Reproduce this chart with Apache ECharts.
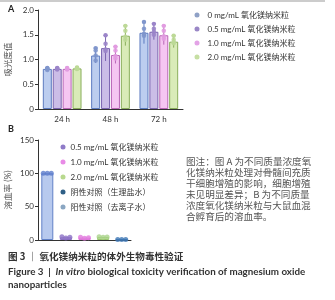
<!DOCTYPE html>
<html>
<head>
<meta charset="utf-8">
<style>
html, body { margin: 0; padding: 0; background: #fff; }
#chart { width: 335px; height: 300px; }
</style>
<script src="https://cdn.jsdelivr.net/npm/echarts@6/dist/echarts.min.js"></script>
</head>
<body>
<div id="chart"></div>
<script>
// A: 吸光度值
var timeCats = ['24 h', '48 h', '72 h'];
var concNames = ['0 mg/mL 氧化镁纳米粒', '0.5 mg/mL 氧化镁纳米粒', '1.0 mg/mL 氧化镁纳米粒', '2.0 mg/mL 氧化镁纳米粒'];
var odMean = [[0.81, 1.08, 1.54], [0.81, 1.23, 1.56], [0.81, 1.09, 1.49], [0.82, 1.48, 1.36]];
var odSd = [[0.02, 0.15, 0.22], [0.02, 0.26, 0.16], [0.02, 0.17, 0.19], [0.02, 0.20, 0.12]];
var odPoints = [
    [[0.79, 0.81, 0.82], [1.18, 1.08, 0.98], [1.62, 1.52, 1.48]],
    [[0.80, 0.81, 0.82], [1.32, 1.20, 1.17], [1.62, 1.56, 1.50]],
    [[0.80, 0.81, 0.82], [1.18, 1.07, 1.02], [1.58, 1.47, 1.42]],
    [[0.81, 0.82, 0.83], [1.58, 1.46, 1.40], [1.40, 1.35, 1.33]]
];

// B: 溶血率
var hemoCats = ['阳性对照（去离子水）', '0.5 mg/mL 氧化镁纳米粒', '1.0 mg/mL 氧化镁纳米粒', '2.0 mg/mL 氧化镁纳米粒', '阴性对照（生理盐水）'];
var hemoMean = [100, 4, 3.5, 4.5, 0.8];
var hemoPoints = [[100, 100, 100], [5, 3, 4], [4, 2.5, 3.5], [5, 4, 4.5], [0.8, 0.8, 0.8]];
var hemoLegend = ['0.5 mg/mL 氧化镁纳米粒', '1.0 mg/mL 氧化镁纳米粒', '2.0 mg/mL 氧化镁纳米粒', '阴性对照（生理盐水）', '阳性对照（去离子水）'];

var captionLines = [
    '图注：图 A 为不同质量浓度氧',
    '化镁纳米粒处理对骨髓间充质',
    '干细胞增殖的影响，细胞增殖',
    '未见明显差异；B 为不同质量',
    '浓度氧化镁纳米粒与大鼠血混',
    '合孵育后的溶血率。'
];

var FONT = 'Lato, "Noto Sans CJK SC", sans-serif';

// 颜色
var concFill = ['#bccdef', '#cbbde7', '#f5c6f2', '#d9ebb8'];
var concBorder = ['#5d7bc0', '#7b64b0', '#b866b6', '#8aae5c'];
var concDot = ['#8096cc', '#9b85c9', '#e29ce1', '#bdd997'];
var concLegendDot = ['#8fa1c6', '#9a87c6', '#e3a3e6', '#c6dfa3'];

var hemoFill = ['#b7c9ee', '#bfaee0', '#f0b8ee', '#cfe6ab', '#9fb8dc'];
var hemoBorder = ['#6281c8', '#8a70c0', '#d474d0', '#96c06a', '#3f6fa8'];
var hemoDot = ['#5b7ccc', '#8c70c6', '#e27ade', '#a9d38a', '#3f78b5'];
var hemoLegendDot = ['#8f7bc8', '#e88be6', '#b8d98e', '#2f5f86', '#8aa6c2'];

var barW = 9, barStep = 9.9;
var barOffsets = [-1.5, -0.5, 0.5, 1.5].map(function (k) { return k * barStep; });
var dotOffsetsB = [-4, 0, 4];

var chart = echarts.init(document.getElementById('chart'));

var series = [];

// A 柱
concNames.forEach(function (name, k) {
    series.push({
        name: name,
        type: 'bar',
        xAxisIndex: 0,
        yAxisIndex: 0,
        barWidth: barW,
        barGap: '10%',
        data: odMean[k],
        itemStyle: { color: concFill[k], borderColor: concBorder[k], borderWidth: 1 },
        z: 2
    });
});

// A 误差线
concNames.forEach(function (name, k) {
    var d = odMean[k].map(function (m, i) { return [i, m, odSd[k][i]]; });
    series.push({
        type: 'custom',
        xAxisIndex: 0,
        yAxisIndex: 0,
        data: d,
        z: 3,
        silent: true,
        renderItem: function (params, api) {
            var i = api.value(0), m = api.value(1), s = api.value(2);
            var hi = api.coord([i, m + s]);
            var lo = api.coord([i, m - s]);
            var x = hi[0] + barOffsets[k];
            return {
                type: 'group',
                children: [
                    { type: 'line', shape: { x1: x, y1: hi[1], x2: x, y2: lo[1] }, style: { stroke: concBorder[k], lineWidth: 1 } },
                    { type: 'line', shape: { x1: x - 2, y1: hi[1], x2: x + 2, y2: hi[1] }, style: { stroke: concBorder[k], lineWidth: 1 } },
                    { type: 'circle', shape: { cx: x, cy: hi[1], r: 2.2 }, style: { fill: concDot[k] } }
                ]
            };
        }
    });
});

// A 散点
concNames.forEach(function (name, k) {
    var d = [];
    odPoints[k].forEach(function (pts, i) {
        pts.forEach(function (v) { d.push([i, v]); });
    });
    series.push({
        type: 'scatter',
        xAxisIndex: 0,
        yAxisIndex: 0,
        data: d,
        symbolSize: 4.5,
        symbolOffset: [barOffsets[k], 0],
        itemStyle: { color: concDot[k], opacity: 0.9 },
        z: 4,
        silent: true
    });
});

// B 柱
hemoCats.forEach(function (name, c) {
    var d = hemoCats.map(function (x, i) { return i === c ? hemoMean[c] : '-'; });
    series.push({
        name: name,
        type: 'bar',
        xAxisIndex: 1,
        yAxisIndex: 1,
        stack: 'hemo',
        barWidth: 12,
        data: d,
        itemStyle: { color: hemoFill[c], borderColor: hemoBorder[c], borderWidth: 1 },
        z: 2
    });
});

// B 散点
hemoCats.forEach(function (name, c) {
    var d = hemoPoints[c].map(function (v, j) {
        return { value: [c, v], symbolOffset: [dotOffsetsB[j], 0] };
    });
    series.push({
        type: 'scatter',
        xAxisIndex: 1,
        yAxisIndex: 1,
        data: d,
        symbolSize: 5,
        itemStyle: { color: hemoDot[c] },
        z: 4,
        silent: true
    });
});

var axisLineStyle = { color: '#333', width: 1 };

var option = {
    animation: false,
    textStyle: { fontFamily: FONT },
    grid: [
        { left: 38, top: 10, width: 145, height: 99 },
        { left: 38, top: 140, width: 93, height: 100 }
    ],
    xAxis: [
        {
            gridIndex: 0, type: 'category', data: timeCats,
            axisLine: { lineStyle: axisLineStyle },
            axisTick: { alignWithLabel: true, length: 3, lineStyle: axisLineStyle },
            axisLabel: { color: '#333', fontSize: 8, margin: 6, fontFamily: FONT }
        },
        {
            gridIndex: 1, type: 'category', data: hemoCats,
            axisLine: { lineStyle: axisLineStyle },
            axisTick: { show: false },
            axisLabel: { show: false }
        }
    ],
    yAxis: [
        {
            gridIndex: 0, type: 'value', min: 0, max: 2, interval: 0.5,
            name: '吸光度值', nameLocation: 'middle', nameGap: 25,
            nameTextStyle: { color: '#555', fontSize: 8.5, fontFamily: FONT },
            axisLine: { show: true, lineStyle: axisLineStyle },
            axisTick: { show: true, length: 3, lineStyle: axisLineStyle },
            axisLabel: {
                color: '#333', fontSize: 8, margin: 4, fontFamily: FONT,
                formatter: function (v) { return v === 0 ? '0' : v.toFixed(1); }
            },
            splitLine: { show: false }
        },
        {
            gridIndex: 1, type: 'value', min: 0, max: 150, interval: 50,
            name: '溶血率 (%)', nameLocation: 'middle', nameGap: 25,
            nameTextStyle: { color: '#555', fontSize: 8.5, fontFamily: FONT },
            axisLine: { show: true, lineStyle: axisLineStyle },
            axisTick: { show: true, length: 3, lineStyle: axisLineStyle },
            axisLabel: { color: '#333', fontSize: 8, margin: 4, fontFamily: FONT },
            splitLine: { show: false }
        }
    ],
    legend: [
        {
            left: 194.5, top: 10, orient: 'vertical', padding: 0,
            itemWidth: 5, itemHeight: 5, itemGap: 4, icon: 'circle',
            selectedMode: false,
            textStyle: { color: '#333', fontSize: 8, lineHeight: 10, fontFamily: FONT, padding: [0, 0, 0, 3] },
            data: concNames.map(function (n, k) {
                return { name: n, itemStyle: { color: concLegendDot[k], borderWidth: 0 } };
            })
        },
        {
            left: 60.5, top: 142, orient: 'vertical', padding: 0,
            itemWidth: 5, itemHeight: 5, itemGap: 5, icon: 'circle',
            selectedMode: false,
            textStyle: { color: '#333', fontSize: 8, lineHeight: 10, fontFamily: FONT },
            data: hemoLegend.map(function (n, k) {
                return { name: n, itemStyle: { color: hemoLegendDot[k], borderWidth: 0 } };
            })
        }
    ],
    graphic: [
        { type: 'line', shape: { x1: 0, y1: 1, x2: 325, y2: 1 }, style: { stroke: '#bbb', lineWidth: 1.5 } },
        { type: 'text', left: 8, top: 5, style: { text: 'A', font: 'bold 9px ' + FONT, fill: '#222' } },
        { type: 'text', left: 8, top: 125, style: { text: 'B', font: 'bold 9px ' + FONT, fill: '#222' } },
        {
            type: 'text', left: 186, top: 156,
            style: { text: captionLines.join('\n'), font: '9.6px "Noto Sans CJK SC"', fill: '#555', lineHeight: 11 }
        },
        {
            type: 'text', left: 8, top: 252,
            style: { text: '图 3 ｜ 氧化镁纳米粒的体外生物毒性验证', font: 'bold 9.6px "Noto Sans CJK SC"', fill: '#333' }
        },
        {
            type: 'text', left: 8, top: 266,
            style: {
                text: '{b|Figure 3  |  }{i|In vitro}{b| biological toxicity verification of magnesium oxide}\n{b|nanoparticles}',
                lineHeight: 12.5,
                rich: {
                    b: { font: 'bold 9.8px Lato', fill: '#333' },
                    i: { font: 'italic bold 9.8px Lato', fill: '#333' }
                }
            }
        }
    ],
    series: series
};

chart.setOption(option);
</script>
</body>
</html>
